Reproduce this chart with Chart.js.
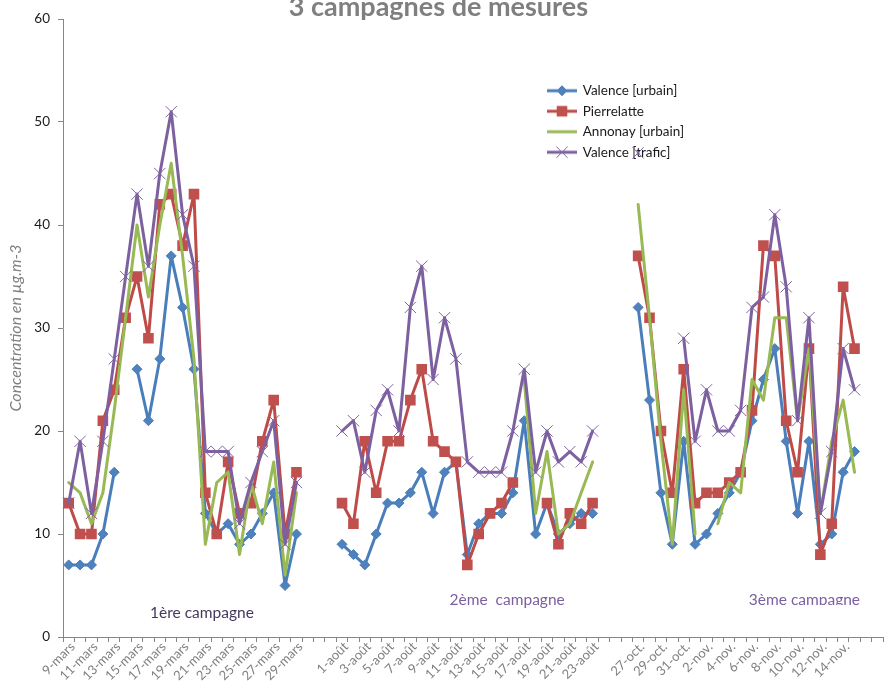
<!DOCTYPE html>
<html lang="fr">
<head>
<meta charset="utf-8">
<title>3 campagnes de mesures</title>
<script src="https://cdn.jsdelivr.net/npm/chart.js@4.4.1/dist/chart.umd.min.js"></script>
<style>
  html, body { margin: 0; padding: 0; background: #fff; overflow: hidden; }
  #graphe { display: block; }
</style>
</head>
<body>
<canvas id="graphe" width="892" height="691"></canvas>
<script>
// Jours de mesure de chaque campagne
const joursMars = ['9-mars', '10-mars', '11-mars', '12-mars', '13-mars', '14-mars', '15-mars',
  '16-mars', '17-mars', '18-mars', '19-mars', '20-mars', '21-mars', '22-mars', '23-mars',
  '24-mars', '25-mars', '26-mars', '27-mars', '28-mars', '29-mars'];
const joursAout = ['1-août', '2-août', '3-août', '4-août', '5-août', '6-août', '7-août', '8-août',
  '9-août', '10-août', '11-août', '12-août', '13-août', '14-août', '15-août', '16-août',
  '17-août', '18-août', '19-août', '20-août', '21-août', '22-août', '23-août'];
const joursAutomne = ['27-oct.', '28-oct.', '29-oct.', '30-oct.', '31-oct.', '1-nov.', '2-nov.',
  '3-nov.', '4-nov.', '5-nov.', '6-nov.', '7-nov.', '8-nov.', '9-nov.', '10-nov.', '11-nov.',
  '12-nov.', '13-nov.', '14-nov.', '15-nov.'];

// Concentrations (µg/m3), une liste par station et par campagne
const valenceUrbainMars = [7, 7, 7, 10, 16, null, 26, 21, 27, 37, 32, 26, 12, 10, 11, 9, 10, 12, 14, 5, 10];
const valenceUrbainAout = [9, 8, 7, 10, 13, 13, 14, 16, 12, 16, 17, 8, 11, 12, 12, 14, 21, 10, 13, 10, 11, 12, 12];
const valenceUrbainAutomne = [32, 23, 14, 9, 19, 9, 10, 12, 14, 16, 21, 25, 28, 19, 12, 19, 9, 10, 16, 18];

const pierrelatteMars = [13, 10, 10, 21, 24, 31, 35, 29, 42, 43, 38, 43, 14, 10, 17, 12, 13, 19, 23, 10, 16];
const pierrelatteAout = [13, 11, 19, 14, 19, 19, 23, 26, 19, 18, 17, 7, 10, 12, 13, 15, null, null, 13, 9, 12, 11, 13];
const pierrelatteAutomne = [37, 31, 20, 14, 26, 13, 14, 14, 15, 16, 22, 38, 37, 21, 16, 28, 8, 11, 34, 28];

const annonayMars = [15, 14, 11, 14, 22, 31, 40, 33, 40, 46, 37, 27, 9, 15, 16, 8, 15, 11, 17, 6, 14];
const annonayAout = [null, null, null, null, null, null, null, null, null, null, null, null, null, null, null, null, 25, 12, 18, 10, 11, 14, 17];
const annonayAutomne = [42, 31, 19, 9, 24, 10, null, 11, 15, 14, 25, 23, 31, 31, 21, 28, 12, 19, 23, 16];

const valenceTraficMars = [13, 19, 12, 19, 27, 35, 43, 36, 45, 51, 41, 36, 18, 18, 18, 11, 15, 18, 21, 9, 15];
const valenceTraficAout = [20, 21, 16, 22, 24, 20, 32, 36, 25, 31, 27, 17, 16, 16, 16, 20, 26, 16, 20, 17, 18, 17, 20];
const valenceTraficAutomne = [47, null, null, null, 29, 19, 24, 20, 20, 22, 32, 33, 41, 34, 21, 31, 12, 18, 28, 24];

// Textes des campagnes : position en index de catégorie et en valeur
const textesCampagnes = ['1ère campagne', '2ème  campagne', '3ème campagne'];
const centresCampagnes = [11.7, 38.5, 64.6];
const hauteursCampagnes = [2.3, 3.6, 3.6];

// Axe x : jours vides entre les campagnes
const vide = n => Array(n).fill('');
const trou = n => Array(n).fill(null);
const categories = [...joursMars, ...vide(3), ...joursAout, ...vide(3), ...joursAutomne, ...vide(2)];
const serie = (a, b, c) => [...a, ...trou(3), ...b, ...trou(3), ...c, ...trou(2)];

const BLEU = '#4A7EBB', ROUGE = '#BE4B48', VERT = '#98B954', VIOLET = '#7D60A0';

const series = [
  { label: 'Valence [urbain]', data: serie(valenceUrbainMars, valenceUrbainAout, valenceUrbainAutomne),
    borderColor: BLEU, pointStyle: 'rectRot', pointRadius: 5, pointBackgroundColor: '#4F81BD',
    pointBorderColor: BLEU, pointBorderWidth: 1, order: 4 },
  { label: 'Pierrelatte', data: serie(pierrelatteMars, pierrelatteAout, pierrelatteAutomne),
    borderColor: ROUGE, pointStyle: 'rect', pointRadius: 7.5, pointBackgroundColor: '#C0504D',
    pointBorderColor: ROUGE, pointBorderWidth: 0, order: 3 },
  { label: 'Annonay [urbain]', data: serie(annonayMars, annonayAout, annonayAutomne),
    borderColor: VERT, pointRadius: 0, pointStyle: false, order: 2 },
  { label: 'Valence [trafic]', data: serie(valenceTraficMars, valenceTraficAout, valenceTraficAutomne),
    borderColor: VIOLET, pointStyle: 'crossRot', pointRadius: 8, pointBackgroundColor: VIOLET,
    pointBorderColor: '#8064A2', pointBorderWidth: 1, order: 1 }
];
series.forEach(s => Object.assign(s, {
  backgroundColor: s.borderColor, borderWidth: 3, tension: 0, spanGaps: false,
  borderJoinStyle: 'round', borderCapStyle: 'round', pointHoverRadius: s.pointRadius
}));

// Petite image (trait + marqueur) pour chaque entrée de la légende
function echantillon(s) {
  const c = document.createElement('canvas');
  c.width = 30; c.height = 14;
  const ctx = c.getContext('2d');
  ctx.strokeStyle = s.borderColor;
  ctx.lineWidth = 3;
  ctx.beginPath(); ctx.moveTo(0, 7); ctx.lineTo(30, 7); ctx.stroke();
  if (s.pointStyle) {
    ctx.fillStyle = s.pointBackgroundColor;
    ctx.strokeStyle = s.pointBorderColor;
    ctx.lineWidth = s.pointBorderWidth || 0.01;
    Chart.helpers.drawPoint(ctx, { pointStyle: s.pointStyle, radius: s.pointRadius,
      borderWidth: s.pointBorderWidth, rotation: 0 }, 15, 7);
  }
  return c;
}

// Place la légende dans la zone du graphique, décale un peu le titre
const placeLegende = {
  id: 'placeLegende',
  afterLayout(chart) {
    const lg = chart.legend;
    const w = lg.width, h = lg.height;
    lg.left = 541; lg.top = 77;
    lg.right = lg.left + w; lg.bottom = lg.top + h;
    const t = chart.titleBlock;
    if (t) t.left = -12;
  }
};

// Nom de chaque campagne sous ses courbes
const nomsCampagnes = {
  id: 'nomsCampagnes',
  afterDatasetsDraw(chart) {
    const { ctx, scales: { x, y } } = chart;
    const pas = x.getPixelForValue(1) - x.getPixelForValue(0);
    ctx.save();
    ctx.font = '15.5px Lato';
    ctx.textAlign = 'center';
    ctx.textBaseline = 'alphabetic';
    textesCampagnes.forEach((t, i) => {
      const px = x.getPixelForValue(0) + centresCampagnes[i] * pas;
      const py = y.getPixelForValue(hauteursCampagnes[i]);
      ctx.save();
      if (i === 2) {
        ctx.beginPath();
        ctx.rect(px - 80, py - 20, 160, 25);
        ctx.clip();
      }
      ctx.fillStyle = i === 0 ? '#46385e' : '#7c5fa0';
      ctx.fillText(t, px, py + 5);
      ctx.restore();
    });
    ctx.restore();
  }
};

new Chart(document.getElementById('graphe'), {
  type: 'line',
  data: { labels: categories, datasets: series },
  options: {
    responsive: false,
    animation: false,
    layout: { padding: { left: 0, right: 3.2, top: 0, bottom: 0 } },
    plugins: {
      title: {
        display: true,
        text: '3 campagnes de mesures',
        color: '#7f7f7f',
        font: { family: 'Lato', size: 27, weight: 'bold', lineHeight: 0.5 },
        padding: { top: 1, bottom: 4.5 }
      },
      legend: {
        position: 'chartArea',
        align: 'start',
        labels: {
          color: '#1a1a1a',
          font: { family: 'Lato', size: 13.5 },
          usePointStyle: true,
          pointStyleWidth: 28,
          padding: 7,
          generateLabels(chart) {
            return chart.data.datasets.map((s, i) => ({
              text: s.label, datasetIndex: i, pointStyle: echantillon(s),
              fillStyle: s.borderColor, strokeStyle: s.borderColor, lineWidth: 0,
              fontColor: '#1a1a1a', hidden: false
            }));
          }
        }
      },
      tooltip: { enabled: false }
    },
    scales: {
      x: {
        offset: true,
        grid: { offset: true, drawOnChartArea: false, drawTicks: true, tickLength: 5, color: '#868686' },
        border: { color: '#868686' },
        ticks: {
          autoSkip: false, minRotation: 45, maxRotation: 45, padding: -3, labelOffset: 4,
          color: '#808080', font: { family: 'Lato', size: 13 },
          callback: (v, i) => (i % 2 === 0 ? categories[i] : '')
        },
        afterFit(s) { s.height = 54; }
      },
      y: {
        min: 0, max: 60,
        grid: { drawOnChartArea: false, drawTicks: true, tickLength: 5, color: '#868686' },
        border: { color: '#868686' },
        ticks: { stepSize: 10, padding: 8, color: '#1a1a1a', font: { family: 'Lato', size: 13.5 } },
        title: {
          display: true, text: 'Concentration en µg.m-3', color: '#7f7f7f',
          font: { family: 'Lato', size: 16, style: 'italic' }, padding: { top: 6, bottom: 0 }
        },
        afterFit(s) { s.width = 63; }
      }
    }
  },
  plugins: [placeLegende, nomsCampagnes]
});
</script>
</body>
</html>
